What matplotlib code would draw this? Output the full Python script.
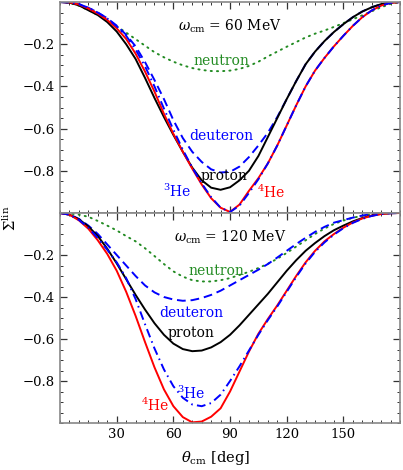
import numpy as np
import matplotlib
matplotlib.use("Agg")
import matplotlib.pyplot as plt
from matplotlib.ticker import MultipleLocator, FixedLocator

plt.rcParams['font.family'] = ['DejaVu Serif']
plt.rcParams['mathtext.fontset'] = 'dejavuserif'

# scattering angle grid (deg)
theta = np.arange(0, 181, 5)

# omega_cm = 60 MeV
n60 = [0, -0.004, -0.018, -0.038, -0.062, -0.088, -0.115, -0.145, -0.176, -0.207,
       -0.238, -0.262, -0.283, -0.300, -0.313, -0.322, -0.327, -0.328, -0.325, -0.317,
       -0.303, -0.283, -0.258, -0.235, -0.212, -0.19, -0.168, -0.15, -0.135, -0.118,
       -0.1, -0.082, -0.063, -0.044, -0.025, -0.009, 0]
d60 = [0, -0.002, -0.01, -0.027, -0.05, -0.077, -0.112, -0.155, -0.21, -0.285,
       -0.37, -0.46, -0.56, -0.645, -0.71, -0.758, -0.793, -0.808, -0.805, -0.78,
       -0.735, -0.68, -0.62, -0.545, -0.46, -0.375, -0.295, -0.235, -0.185, -0.142,
       -0.105, -0.072, -0.045, -0.025, -0.01, -0.003, 0]
p60 = [0, -0.003, -0.016, -0.039, -0.062, -0.095, -0.14, -0.2, -0.27, -0.36,
       -0.455, -0.545, -0.63, -0.71, -0.785, -0.845, -0.88, -0.89, -0.878, -0.845,
       -0.80, -0.73, -0.64, -0.55, -0.46, -0.375, -0.295, -0.235, -0.185, -0.142,
       -0.105, -0.072, -0.045, -0.025, -0.01, -0.003, 0]
he3_60 = [0, -0.002, -0.01, -0.027, -0.05, -0.078, -0.115, -0.16, -0.225, -0.305,
          -0.40, -0.505, -0.605, -0.70, -0.785, -0.86, -0.925, -0.975, -0.995, -0.965,
          -0.905, -0.84, -0.765, -0.68, -0.585, -0.49, -0.40, -0.325, -0.265, -0.21,
          -0.16, -0.113, -0.072, -0.04, -0.017, -0.004, 0]
he4_60 = [0, -0.002, -0.012, -0.031, -0.055, -0.085, -0.125, -0.175, -0.245, -0.33,
          -0.425, -0.53, -0.625, -0.71, -0.79, -0.865, -0.93, -0.975, -0.995, -0.96,
          -0.895, -0.835, -0.765, -0.68, -0.585, -0.49, -0.40, -0.325, -0.265, -0.21,
          -0.16, -0.113, -0.072, -0.04, -0.017, -0.004, 0]

# omega_cm = 120 MeV
n120 = [0, -0.002, -0.008, -0.018, -0.038, -0.06, -0.083, -0.11, -0.135, -0.168,
        -0.205, -0.243, -0.278, -0.303, -0.32, -0.326, -0.326, -0.32, -0.31, -0.295,
        -0.28, -0.262, -0.242, -0.218, -0.19, -0.16, -0.13, -0.1, -0.074, -0.052,
        -0.036, -0.023, -0.013, -0.006, -0.002, 0, 0]
d120 = [0, -0.007, -0.028, -0.06, -0.1, -0.15, -0.2, -0.25, -0.3, -0.345,
        -0.378, -0.4, -0.412, -0.418, -0.415, -0.405, -0.39, -0.37, -0.345, -0.32,
        -0.295, -0.27, -0.243, -0.212, -0.18, -0.148, -0.118, -0.09, -0.066, -0.046,
        -0.034, -0.022, -0.012, -0.005, -0.002, 0, 0]
p120 = [0, -0.008, -0.03, -0.064, -0.11, -0.17, -0.24, -0.315, -0.39, -0.46,
        -0.525, -0.58, -0.622, -0.648, -0.658, -0.655, -0.64, -0.615, -0.58, -0.535,
        -0.485, -0.435, -0.385, -0.33, -0.275, -0.225, -0.18, -0.143, -0.11, -0.082,
        -0.06, -0.04, -0.024, -0.012, -0.004, -0.001, 0]
he3_120 = [0, -0.008, -0.033, -0.07, -0.12, -0.175, -0.235, -0.31, -0.41, -0.53,
           -0.645, -0.745, -0.825, -0.88, -0.912, -0.92, -0.905, -0.865, -0.80, -0.73,
           -0.655, -0.58, -0.51, -0.445, -0.375, -0.305, -0.24, -0.185, -0.14, -0.103,
           -0.072, -0.047, -0.028, -0.014, -0.005, -0.001, 0]
he4_120 = [0, -0.008, -0.035, -0.075, -0.13, -0.195, -0.275, -0.375, -0.49, -0.615,
           -0.735, -0.84, -0.92, -0.972, -0.997, -0.993, -0.97, -0.93, -0.85, -0.755,
           -0.66, -0.575, -0.505, -0.44, -0.37, -0.30, -0.235, -0.18, -0.135, -0.1,
           -0.07, -0.045, -0.026, -0.013, -0.005, -0.001, 0]

green = '#228b22'
panels = [
    ("60 MeV", n60, d60, p60, he3_60, he4_60),
    ("120 MeV", n120, d120, p120, he3_120, he4_120),
]

fig = plt.figure(figsize=(4.03, 4.70), dpi=100)
ax_top = fig.add_axes([0.149, 0.5468, 0.8437, 0.4489])
ax_bot = fig.add_axes([0.149, 0.1, 0.8437, 0.4468])

for ax, (energy, n, d, p, he3, he4) in zip([ax_top, ax_bot], panels):
    ax.plot(theta, n, color=green, lw=1.4, ls=(0, (0.6, 2.6)), dash_capstyle='round')
    ax.plot(theta, d, color='blue', lw=1.4, ls=(0, (4.5, 2.5)))
    ax.plot(theta, p, color='black', lw=1.4)
    ax.plot(theta, he4, color='red', lw=1.4)
    ax.plot(theta, he3, color='blue', lw=1.4, ls=(0, (4.5, 2.2, 0.8, 2.2)))
    ax.set_xlim(0, 180)
    ax.set_ylim(-1, 0)
    ax.xaxis.set_major_locator(FixedLocator([30, 60, 90, 120, 150]))
    ax.xaxis.set_minor_locator(MultipleLocator(5))
    ax.yaxis.set_major_locator(FixedLocator([-0.8, -0.6, -0.4, -0.2]))
    ax.yaxis.set_minor_locator(MultipleLocator(0.05))
    ax.tick_params(which='both', direction='in', top=True, right=True,
                   labelsize=9.5, color='#333333')
    ax.tick_params(which='major', length=5, width=0.9)
    ax.tick_params(which='minor', length=2.5, width=0.7)
    ax.yaxis.set_major_formatter(plt.FuncFormatter(lambda v, pos: '\u2212%.1f' % abs(v)))
    for s in ax.spines.values():
        s.set_color('#888888')
        s.set_linewidth(1.2)
    ax.text(0.5, 0.885, r'$\omega_{\rm cm}$ = ' + energy, transform=ax.transAxes,
            ha='center', va='center', fontsize=10)

ax_top.tick_params(labelbottom=False)

# labels, top panel
ax_top.text(85.5, -0.28, 'neutron', color=green, ha='center', va='center', fontsize=10)
ax_top.text(85.5, -0.635, 'deuteron', color='blue', ha='center', va='center', fontsize=10)
ax_top.text(87, -0.825, 'proton', color='black', ha='center', va='center', fontsize=10)
ax_top.text(62, -0.895, r'$^{3}$He', color='blue', ha='center', va='center', fontsize=10)
ax_top.text(112, -0.9, r'$^{4}$He', color='red', ha='center', va='center', fontsize=10)

# labels, bottom panel
ax_bot.text(83, -0.275, 'neutron', color=green, ha='center', va='center', fontsize=10)
ax_bot.text(69.5, -0.475, 'deuteron', color='blue', ha='center', va='center', fontsize=10)
ax_bot.text(69.5, -0.57, 'proton', color='black', ha='center', va='center', fontsize=10)
ax_bot.text(69.5, -0.86, r'$^{3}$He', color='blue', ha='center', va='center', fontsize=10)
ax_bot.text(50.5, -0.915, r'$^{4}$He', color='red', ha='center', va='center', fontsize=10)

fig.text(215 / 403, 1 - 458 / 470, r'$\theta_{\rm cm}$ [deg]', ha='center', va='center', fontsize=10.5)
fig.text(10 / 403, 1 - 218 / 470, r'$\Sigma^{\rm lin}$', ha='center', va='center',
         rotation=90, fontsize=10.5)

fig.savefig('out.png', dpi=100)
